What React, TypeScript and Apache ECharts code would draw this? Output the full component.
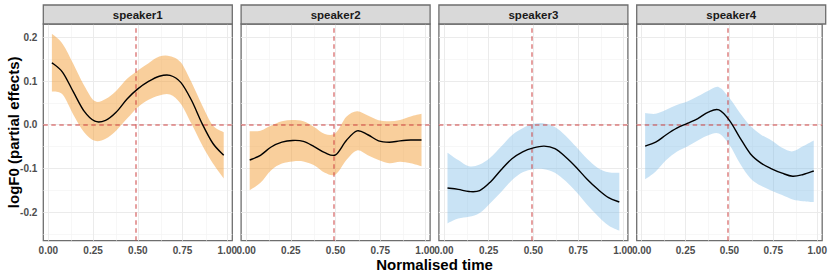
import React, { useEffect, useRef } from "react";
import * as echarts from "echarts";

const speakers = ["speaker1", "speaker2", "speaker3", "speaker4"];
const timeX = [0.02, 0.08, 0.14, 0.2, 0.26, 0.32, 0.38, 0.44, 0.5, 0.56, 0.62, 0.68, 0.74, 0.8, 0.86, 0.92, 0.98];

const fit1 = [0.142, 0.12, 0.075, 0.031, 0.008, 0.01, 0.029, 0.059, 0.082, 0.099, 0.111, 0.113, 0.097, 0.056, 0.002, -0.043, -0.07];
const upper1 = [0.208, 0.185, 0.139, 0.09, 0.054, 0.059, 0.078, 0.105, 0.124, 0.141, 0.156, 0.157, 0.143, 0.097, 0.044, -0.002, -0.017];
const lower1 = [0.076, 0.069, 0.023, -0.017, -0.037, -0.032, -0.013, 0.014, 0.04, 0.057, 0.067, 0.069, 0.048, 0.002, -0.047, -0.089, -0.123];

const fit2 = [-0.081, -0.07, -0.051, -0.04, -0.036, -0.038, -0.05, -0.064, -0.069, -0.036, -0.014, -0.023, -0.037, -0.04, -0.037, -0.035, -0.035];
const upper2 = [-0.015, -0.014, -0.002, 0.008, 0.011, 0.008, -0.005, -0.021, -0.019, 0.018, 0.031, 0.021, 0.01, 0.008, 0.011, 0.019, 0.025];
const lower2 = [-0.15, -0.133, -0.104, -0.089, -0.084, -0.084, -0.093, -0.11, -0.114, -0.081, -0.059, -0.07, -0.081, -0.088, -0.085, -0.088, -0.095];

const fit3 = [-0.145, -0.148, -0.153, -0.151, -0.131, -0.103, -0.078, -0.062, -0.053, -0.049, -0.055, -0.074, -0.098, -0.125, -0.148, -0.167, -0.177];
const upper3 = [-0.064, -0.081, -0.095, -0.091, -0.075, -0.05, -0.024, -0.008, 0.002, 0.003, -0.005, -0.025, -0.051, -0.078, -0.099, -0.109, -0.11];
const lower3 = [-0.226, -0.215, -0.211, -0.202, -0.179, -0.154, -0.127, -0.109, -0.102, -0.102, -0.11, -0.129, -0.154, -0.183, -0.209, -0.231, -0.243];

const fit4 = [-0.049, -0.04, -0.023, -0.008, 0.003, 0.014, 0.029, 0.034, 0.01, -0.03, -0.067, -0.088, -0.101, -0.111, -0.118, -0.114, -0.106];
const upper4 = [0.027, 0.025, 0.034, 0.045, 0.053, 0.065, 0.078, 0.086, 0.061, 0.027, -0.003, -0.023, -0.036, -0.053, -0.061, -0.049, -0.036];
const lower4 = [-0.125, -0.107, -0.081, -0.062, -0.05, -0.036, -0.024, -0.02, -0.046, -0.089, -0.123, -0.14, -0.151, -0.161, -0.171, -0.175, -0.177];

const fits = [fit1, fit2, fit3, fit4];
const uppers = [upper1, upper2, upper3, upper4];
const lowers = [lower1, lower2, lower3, lower4];
const ribbonColors = ["rgba(243,160,58,0.5)", "rgba(243,160,58,0.5)", "rgba(120,185,230,0.4)", "rgba(120,185,230,0.4)"];

const xTicks = [0, 0.25, 0.5, 0.75, 1];
const xMinor = [0.125, 0.375, 0.625, 0.875];
const yTicks = [-0.2, -0.1, 0, 0.1, 0.2];
const yMinor = [-0.25, -0.15, -0.05, 0.05, 0.15];
const refX = 0.487;
const refY = 0;

const xTitle = "Normalised time";
const yTitle = "logF0 (partial effects)";

const FONT = "'Liberation Sans', Arial, sans-serif";
const panelLeft0 = 43.3;
const panelW = 189;
const panelGap = 8.8;
const panelTop = 24;
const panelH = 216.7;
const stripTop = 5;

// Catmull-Rom through pixel points -> cubic bezier path segments (no leading M)
function curveSegs(pts: number[][]): string {
  let d = "";
  const n = pts.length;
  for (let k = 0; k < n - 1; k++) {
    const p0 = pts[Math.max(k - 1, 0)];
    const p1 = pts[k];
    const p2 = pts[k + 1];
    const p3 = pts[Math.min(k + 2, n - 1)];
    const c1x = p1[0] + (p2[0] - p0[0]) / 6;
    const c1y = p1[1] + (p2[1] - p0[1]) / 6;
    const c2x = p2[0] - (p3[0] - p1[0]) / 6;
    const c2y = p2[1] - (p3[1] - p1[1]) / 6;
    d += ` C${c1x},${c1y} ${c2x},${c2y} ${p2[0]},${p2[1]}`;
  }
  return d;
}

export default function App() {
  const ref = useRef<HTMLDivElement>(null);
  useEffect(() => {
    if (!ref.current) return;
    const chart = echarts.init(ref.current, null, { renderer: "svg" });
    const grids: any[] = [];
    const xAxes: any[] = [];
    const yAxes: any[] = [];
    const series: any[] = [];
    const graphics: any[] = [];
    speakers.forEach((name, i) => {
      const left = panelLeft0 + i * (panelW + panelGap);
      grids.push({
        left, top: panelTop, width: panelW, height: panelH, show: true,
        backgroundColor: "#fff", borderColor: "#6e6e6e", borderWidth: 1.3,
      });
      xAxes.push({
        type: "value", gridIndex: i, min: -0.028, max: 1.028,
        axisLine: { show: false },
        axisTick: { show: true, customValues: xTicks, length: 3, lineStyle: { color: "#444", width: 1 } },
        axisLabel: {
          customValues: xTicks, formatter: (v: number) => v.toFixed(2), fontSize: 10,
          fontWeight: "bold", color: "#4d4d4d", margin: 5, fontFamily: FONT,
        },
        splitLine: { show: false },
      });
      yAxes.push({
        type: "value", gridIndex: i, min: -0.2656, max: 0.2306,
        axisLine: { show: false },
        axisTick: { show: i === 0, customValues: yTicks, length: 3, lineStyle: { color: "#444", width: 1 } },
        axisLabel: {
          show: i === 0, customValues: yTicks, formatter: (v: number) => v.toFixed(1), fontSize: 10,
          fontWeight: "bold", color: "#4d4d4d", margin: 6, fontFamily: FONT,
        },
        splitLine: { show: false },
      });
      const major = { color: "#ebebeb", width: 1, type: "solid" };
      const minor = { color: "#f4f4f4", width: 0.7, type: "solid" };
      // grid lines
      series.push({
        type: "line", xAxisIndex: i, yAxisIndex: i, silent: true, symbol: "none",
        data: timeX.map((x, j) => [x, fits[i][j]]), lineStyle: { opacity: 0, width: 0 }, z: 1,
        markLine: {
          silent: true, symbol: ["none", "none"], label: { show: false }, z: 1, animation: false,
          data: [
            ...xMinor.map((v) => ({ xAxis: v, lineStyle: minor })),
            ...yMinor.map((v) => ({ yAxis: v, lineStyle: minor })),
            ...xTicks.map((v) => ({ xAxis: v, lineStyle: major })),
            ...yTicks.map((v) => ({ yAxis: v, lineStyle: major })),
          ],
        },
      });
      // confidence ribbon
      series.push({
        type: "custom", xAxisIndex: i, yAxisIndex: i, silent: true, z: 2, clip: true,
        data: timeX.map((x, j) => [x, lowers[i][j], uppers[i][j]]),
        encode: { x: 0, y: [1, 2] },
        renderItem: (params: any, api: any) => {
          if (params.dataIndex !== 0) return null;
          const up = timeX.map((x, j) => api.coord([x, uppers[i][j]]));
          const lo = timeX.map((x, j) => api.coord([x, lowers[i][j]])).reverse();
          const d = `M${up[0][0]},${up[0][1]}` + curveSegs(up) + ` L${lo[0][0]},${lo[0][1]}` + curveSegs(lo) + " Z";
          return { type: "path", shape: { pathData: d }, style: { fill: ribbonColors[i], stroke: null } };
        },
      });
      // reference lines
      series.push({
        type: "line", xAxisIndex: i, yAxisIndex: i, silent: true, symbol: "none",
        data: timeX.map((x, j) => [x, fits[i][j]]), lineStyle: { opacity: 0, width: 0 }, z: 3,
        markLine: {
          silent: true, symbol: ["none", "none"], label: { show: false }, z: 3, animation: false,
          lineStyle: { color: "rgba(205,60,60,0.65)", width: 1.5, type: [4.5, 3.5] },
          data: [{ xAxis: refX }, { yAxis: refY }],
        },
      });
      // fitted smooth
      series.push({
        type: "custom", xAxisIndex: i, yAxisIndex: i, silent: true, z: 4, clip: true,
        data: timeX.map((x, j) => [x, fits[i][j]]),
        encode: { x: 0, y: 1 },
        renderItem: (params: any, api: any) => {
          if (params.dataIndex !== 0) return null;
          const pts = timeX.map((x, j) => api.coord([x, fits[i][j]]));
          const d = `M${pts[0][0]},${pts[0][1]}` + curveSegs(pts);
          return { type: "path", shape: { pathData: d }, style: { fill: null, stroke: "#000", lineWidth: 1.4 } };
        },
      });
      graphics.push({
        type: "rect", shape: { x: left, y: stripTop, width: panelW, height: panelTop - stripTop },
        style: { fill: "#d9d9d9", stroke: "#6e6e6e", lineWidth: 1.3 }, z: 10,
      });
      graphics.push({
        type: "text", x: left + panelW / 2, y: (stripTop + panelTop) / 2 + 0.5, z: 11,
        style: { text: name, fontSize: 11.5, fontWeight: "bold", fontFamily: FONT, fill: "#1a1a1a", align: "center", verticalAlign: "middle" },
      });
    });
    graphics.push({
      type: "text", x: 13, y: panelTop + panelH / 2, rotation: Math.PI / 2, z: 11,
      style: { text: yTitle, fontSize: 15, fontWeight: "bold", fontFamily: FONT, fill: "#000", align: "center", verticalAlign: "middle" },
    });
    graphics.push({
      type: "text", x: (panelLeft0 + panelLeft0 + 4 * panelW + 3 * panelGap) / 2, y: 264, z: 11,
      style: { text: xTitle, fontSize: 15, fontWeight: "bold", fontFamily: FONT, fill: "#000", align: "center", verticalAlign: "middle" },
    });
    chart.setOption({
      animation: false,
      backgroundColor: "#fff",
      grid: grids,
      xAxis: xAxes,
      yAxis: yAxes,
      series,
      graphic: graphics,
    });
    return () => chart.dispose();
  }, []);
  return <div ref={ref} style={{ position: "absolute", left: 0, top: 0, width: 830, height: 277 }} />;
}
